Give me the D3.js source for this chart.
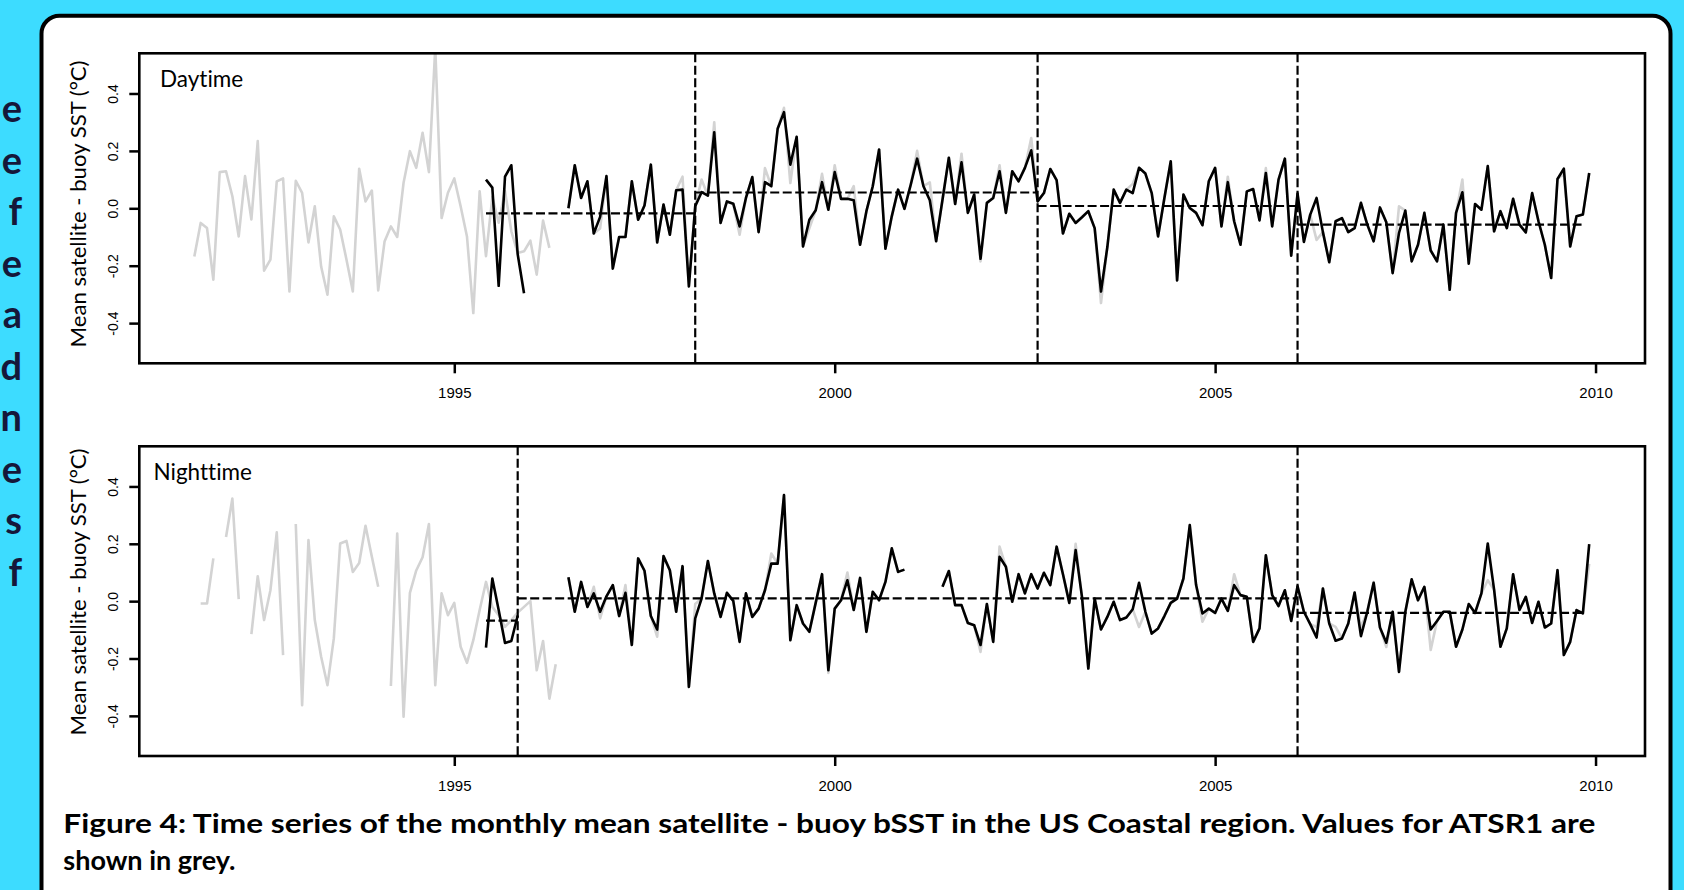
<!DOCTYPE html>
<html>
<head>
<meta charset="utf-8">
<script src="https://cdn.jsdelivr.net/npm/d3@7"></script>
<style>
  body { margin: 0; background: #3ddcff; }
  svg { display: block; }
  text { font-variant-ligatures: none; }
</style>
</head>
<body>
<div id="chart"></div>
<script>
// monthly mean satellite - buoy SST, US coastal region
var width = 1684, height = 890;

// first month of each run, [year, month]
var dayGreyStart = [1991, 8];
var dayBlackStart1 = [1995, 6];
var dayBlackStart2 = [1996, 7];
var nightGreyStart = [1991, 9];
var nightBlackStart1 = [1995, 6];
var nightBlackStart2 = [1996, 7];

// ATSR1, daytime (grey)
var dayGrey = [-0.168, -0.051, -0.069, -0.249, 0.126, 0.129, 0.042, -0.098, 0.112, -0.039,
  0.234, -0.217, -0.179, 0.094, 0.104, -0.29, 0.096, 0.054, -0.119, 0.007,
  -0.203, -0.301, -0.028, -0.074, -0.179, -0.29, 0.138, 0.024, 0.062, -0.286,
  -0.116, -0.063, -0.1, 0.089, 0.199, 0.141, 0.263, 0.126, 0.56, -0.034,
  0.054, 0.104, 0.007, -0.098, -0.365, 0.059, -0.167, 0.04, -0.05, 0.06,
  -0.08, -0.156, -0.15, -0.113, -0.231, -0.043, -0.138];

// grey series showing behind the black one after 1996
var dayGrey2 = [0.0, 0.15, 0.036, 0.094, -0.088, -0.07, 0.112, -0.21, -0.10, -0.10,
  0.094, -0.04, 0.01, 0.152, -0.119, 0.013, -0.092, 0.063, 0.11, -0.272,
  0.007, 0.10, 0.044, 0.30, -0.051, 0.024, 0.016, -0.092, 0.036, 0.109,
  -0.083, 0.14, 0.077, 0.277, 0.35, 0.088, 0.249, -0.133, -0.07, -0.007,
  0.12, -0.005, 0.15, 0.033, 0.033, 0.077, -0.127, -0.01, 0.077, 0.205,
  -0.141, -0.028, 0.065, -0.002, 0.083, 0.2, 0.077, 0.09, -0.115, 0.03,
  0.176, 0.015, 0.19, -0.016, 0.048, -0.185, 0.019, 0.036, 0.15, -0.016,
  0.129, 0.094, 0.141, 0.245, 0.024, 0.053, 0.137, 0.098, -0.088, -0.019,
  -0.051, -0.031, -0.01, -0.069, -0.33, -0.135, 0.065, 0.019, 0.065, 0.085,
  0.141, 0.121, 0.053, -0.098, 0.036, 0.164, -0.251, 0.048, 0.001, -0.016,
  -0.059, 0.094, 0.141, -0.063, 0.11, -0.045, -0.127, 0.059, 0.067, -0.042,
  0.14, -0.063, 0.1, 0.173, -0.165, 0.051, -0.117, -0.022, -0.11, -0.083,
  -0.188, -0.045, -0.034, -0.083, -0.069, 0.019, -0.057, -0.115, 0.0, -0.049,
  -0.226, 0.007, -0.008, -0.185, -0.127, -0.016, -0.147, -0.185, -0.057, -0.284,
  -0.016, 0.1, -0.193, 0.015, -0.005, 0.147, -0.08, -0.01, -0.069, 0.033,
  -0.057, -0.084, 0.053, -0.045, -0.127, -0.243, 0.102, 0.12, -0.133, -0.028,
  -0.022, 0.123];

// daytime (black)
var dayBlack1 = [0.10, 0.072, -0.27, 0.11, 0.15, -0.16, -0.296];
var dayBlack2 = [0.0, 0.15, 0.036, 0.094, -0.088, -0.03, 0.112, -0.21, -0.10, -0.10,
  0.094, -0.04, 0.01, 0.152, -0.119, 0.013, -0.092, 0.063, 0.065, -0.272,
  0.007, 0.056, 0.044, 0.265, -0.051, 0.024, 0.016, -0.063, 0.036, 0.109,
  -0.083, 0.091, 0.077, 0.277, 0.335, 0.152, 0.249, -0.133, -0.04, -0.007,
  0.091, -0.005, 0.126, 0.033, 0.033, 0.028, -0.127, -0.01, 0.077, 0.205,
  -0.141, -0.028, 0.065, -0.002, 0.083, 0.173, 0.077, 0.028, -0.115, 0.03,
  0.176, 0.015, 0.16, -0.016, 0.048, -0.176, 0.019, 0.036, 0.129, -0.016,
  0.129, 0.094, 0.141, 0.202, 0.024, 0.053, 0.137, 0.098, -0.088, -0.019,
  -0.051, -0.031, -0.01, -0.069, -0.29, -0.135, 0.065, 0.019, 0.065, 0.053,
  0.141, 0.121, 0.053, -0.098, 0.036, 0.164, -0.251, 0.048, 0.001, -0.016,
  -0.059, 0.094, 0.141, -0.063, 0.091, -0.045, -0.127, 0.059, 0.067, -0.042,
  0.123, -0.063, 0.1, 0.173, -0.165, 0.051, -0.117, -0.022, 0.036, -0.083,
  -0.188, -0.045, -0.034, -0.083, -0.069, 0.019, -0.057, -0.115, 0.003, -0.049,
  -0.226, -0.086, -0.008, -0.185, -0.127, -0.016, -0.147, -0.185, -0.057, -0.284,
  -0.016, 0.056, -0.193, 0.015, -0.005, 0.147, -0.08, -0.01, -0.069, 0.033,
  -0.057, -0.084, 0.053, -0.045, -0.127, -0.243, 0.102, 0.138, -0.133, -0.028,
  -0.022, 0.123];

// ATSR1, nighttime (grey), null = no data
var nightGrey = [-0.008, -0.008, 0.149, null, 0.224, 0.358, 0.007, null, -0.115, 0.087,
  -0.066, 0.038, 0.24, -0.188, null, 0.269, -0.363, 0.213, -0.066, -0.194,
  -0.293, -0.13, 0.201, 0.21, 0.102, 0.133, 0.263, 0.155, 0.05, null,
  -0.296, 0.236, -0.403, 0.029, 0.107, 0.153, 0.269, -0.293, 0.027, -0.049,
  -0.006, -0.159, -0.215, -0.136, -0.031, 0.067, -0.02, -0.049, -0.09, -0.066,
  -0.04, -0.02, 0.0, -0.241, -0.139, -0.34, -0.22];

var nightGrey2 = [0.083, -0.037, 0.067, -0.02, 0.05, -0.06, 0.017, 0.056, -0.052, 0.056,
  -0.153, 0.149, 0.106, -0.052, -0.124, 0.157, 0.108, -0.037, 0.122, -0.299,
  -0.01, 0.009, 0.14, 0.027, -0.055, 0.029, 0.001, -0.142, 0.027, -0.055,
  -0.026, 0.038, 0.166, 0.131, 0.37, -0.136, -0.014, -0.078, -0.107, -0.006,
  0.094, -0.25, -0.026, 0.003, 0.1, -0.031, 0.081, -0.107, 0.033, 0.003,
  0.067, 0.184, 0.102, 0.11, null, null, null, null, null, 0.05,
  0.105, -0.014, -0.014, -0.076, -0.084, -0.177, -0.01, -0.142, 0.19, 0.12,
  -0.002, 0.094, 0.027, 0.094, 0.044, 0.099, 0.056, 0.19, 0.094, -0.006,
  0.2, 0.015, -0.235, 0.009, -0.099, -0.055, -0.002, -0.066, -0.057, -0.028,
  -0.09, -0.037, -0.113, -0.095, -0.052, -0.006, 0.009, 0.079, 0.265, 0.056,
  -0.072, -0.026, -0.041, 0.009, -0.034, 0.094, 0.021, 0.015, -0.142, -0.095,
  0.16, 0.021, -0.017, 0.038, -0.069, 0.052, -0.037, -0.08, -0.09, 0.044,
  -0.078, -0.09, -0.13, -0.078, 0.03, -0.09, -0.037, 0.067, -0.092, -0.16,
  -0.037, -0.247, -0.037, 0.076, 0.003, 0.05, -0.17, -0.069, -0.037, -0.037,
  -0.159, -0.099, -0.01, -0.041, 0.027, 0.073, 0.04, -0.159, -0.095, 0.094,
  -0.031, 0.015, -0.076, -0.002, -0.092, -0.078, 0.108, -0.188, -0.142, -0.031,
  -0.043, 0.13];

// nighttime (black)
var nightBlack1 = [-0.162, 0.079, -0.031, -0.146, -0.139, -0.05];
var nightBlack2 = [0.083, -0.037, 0.067, -0.02, 0.027, -0.037, 0.017, 0.056, -0.052, 0.029,
  -0.153, 0.149, 0.106, -0.052, -0.099, 0.157, 0.108, -0.037, 0.122, -0.299,
  -0.06, 0.009, 0.14, 0.027, -0.055, 0.029, 0.001, -0.142, 0.027, -0.055,
  -0.026, 0.038, 0.131, 0.131, 0.37, -0.136, -0.014, -0.078, -0.107, -0.006,
  0.094, -0.241, -0.026, 0.003, 0.073, -0.031, 0.081, -0.107, 0.033, 0.003,
  0.067, 0.184, 0.102, 0.11, null, null, null, null, null, 0.05,
  0.105, -0.014, -0.014, -0.076, -0.084, -0.153, -0.01, -0.142, 0.155, 0.12,
  -0.002, 0.094, 0.027, 0.094, 0.044, 0.099, 0.056, 0.19, 0.094, -0.006,
  0.178, 0.015, -0.235, 0.009, -0.099, -0.055, -0.002, -0.066, -0.057, -0.028,
  0.064, -0.037, -0.113, -0.095, -0.052, -0.006, 0.009, 0.079, 0.265, 0.056,
  -0.043, -0.026, -0.041, 0.009, -0.034, 0.056, 0.021, 0.015, -0.142, -0.095,
  0.16, 0.021, -0.017, 0.038, -0.069, 0.052, -0.037, -0.08, -0.127, 0.044,
  -0.078, -0.138, -0.13, -0.078, 0.03, -0.122, -0.037, 0.064, -0.092, -0.145,
  -0.037, -0.247, -0.037, 0.076, 0.003, 0.05, -0.099, -0.069, -0.037, -0.037,
  -0.159, -0.099, -0.01, -0.041, 0.027, 0.201, 0.04, -0.159, -0.095, 0.094,
  -0.031, 0.015, -0.076, -0.002, -0.092, -0.078, 0.108, -0.188, -0.142, -0.031,
  -0.043, 0.199];

// period means (dashed) and break points
var dayMeans = [
  {from: [1995, 6], to: [1998, 3], v: -0.018},
  {from: [1998, 3], to: [2002, 9], v: 0.055},
  {from: [2002, 9], to: [2006, 2], v: 0.008},
  {from: [2006, 2], to: [2009, 11], v: -0.057}];
var dayBreaks = [[1998, 3], [2002, 9], [2006, 2]];
var nightMeans = [
  {from: [1995, 6], to: [1995, 11], v: -0.068},
  {from: [1995, 11], to: [2006, 2], v: 0.01},
  {from: [2006, 2], to: [2009, 11], v: -0.041}];
var nightBreaks = [[1995, 11], [2006, 2]];

var yearTicks = [1995, 2000, 2005, 2010];
var valueTicks = [-0.4, -0.2, 0.0, 0.2, 0.4];
var yTitle = "Mean satellite - buoy SST (\u00b0C)";
var captionLines = ["Figure 4: Time series of the monthly mean satellite - buoy bSST in the US Coastal region. Values for ATSR1 are",
  "shown in grey."];

//convert [year, month] to decimal year
function dec(ym) {
  return ym[0] + (ym[1] - 1) / 12;
}

function toPoints(start, values) {
  return values.map(function(v, i) {
    return {t: dec(start) + i / 12, v: v};
  });
}

var svg = d3.select("#chart")
  .append("svg")
    .attr("width", width)
    .attr("height", height);

svg.append("rect")
  .attr("width", width)
  .attr("height", height)
  .attr("fill", "#3ddcff");

// end of the neighbouring text column, cut off at the left
var edgeLetters = ["e", "e", "f", "e", "a", "d", "n", "e", "s", "f"];
svg.selectAll("text.edge")
  .data(edgeLetters)
  .enter()
  .append("text")
    .attr("class", "edge")
    .attr("x", 22)
    .attr("y", function(d, i) { return 122 + i * 51.5; })
    .attr("text-anchor", "end")
    .style("font-family", "Lato, 'Open Sans', sans-serif")
    .style("font-weight", "bold")
    .style("font-size", "38px")
    .style("fill", "#15173a")
    .text(function(d) { return d; });

// white card
svg.append("rect")
  .attr("x", 41.5)
  .attr("y", 15.7)
  .attr("width", 1629)
  .attr("height", 950)
  .attr("rx", 18)
  .attr("fill", "#fff")
  .attr("stroke", "#000")
  .attr("stroke-width", 4);

var left = 139.3, right = 1645;
var x = d3.scaleLinear()
  .domain([1990.86, 2010.65])
  .range([left, right]);

function drawPanel(p) {
  var y = d3.scaleLinear()
    .domain([-0.54, 0.54])
    .range([p.bottom, p.top]);

  var g = svg.append("g");

  g.append("clipPath")
    .attr("id", p.id)
    .append("rect")
      .attr("x", left)
      .attr("y", p.top)
      .attr("width", right - left)
      .attr("height", p.bottom - p.top);

  var plot = g.append("g").attr("clip-path", "url(#" + p.id + ")");

  var line = d3.line()
    .defined(function(d) { return d.v !== null; })
    .x(function(d) { return x(d.t); })
    .y(function(d) { return y(d.v); });

  p.grey.forEach(function(s) {
    plot.append("path")
      .attr("d", line(s))
      .attr("fill", "none")
      .attr("stroke", "#d3d3d3")
      .attr("stroke-width", 2.6)
      .attr("stroke-linejoin", "round");
  });

  p.black.forEach(function(s) {
    plot.append("path")
      .attr("d", line(s))
      .attr("fill", "none")
      .attr("stroke", "#000")
      .attr("stroke-width", 2.6)
      .attr("stroke-linejoin", "round");
  });

  // means of each period
  plot.selectAll("line.mean")
    .data(p.means)
    .enter()
    .append("line")
      .attr("x1", function(d) { return x(dec(d.from)); })
      .attr("x2", function(d) { return x(dec(d.to)); })
      .attr("y1", function(d) { return y(d.v); })
      .attr("y2", function(d) { return y(d.v); })
      .attr("stroke", "#000")
      .attr("stroke-width", 2.2)
      .style("stroke-dasharray", "9,3.5");

  plot.selectAll("line.brk")
    .data(p.breaks)
    .enter()
    .append("line")
      .attr("x1", function(d) { return x(dec(d)); })
      .attr("x2", function(d) { return x(dec(d)); })
      .attr("y1", p.top)
      .attr("y2", p.bottom)
      .attr("stroke", "#000")
      .attr("stroke-width", 2.2)
      .style("stroke-dasharray", "9,3.5");

  // axes
  var xAxis = g.append("g")
    .attr("transform", "translate(0," + p.bottom + ")")
    .call(d3.axisBottom(x).tickValues(yearTicks).tickSize(10).tickFormat(d3.format("d")));
  xAxis.select(".domain").remove();
  xAxis.selectAll("line").attr("stroke-width", 2.5);
  xAxis.selectAll("text")
    .attr("y", 34.8)
    .attr("dy", null)
    .style("font-family", "'Liberation Sans', Arial, sans-serif")
    .style("font-size", "15px");

  var yAxis = g.append("g")
    .attr("transform", "translate(" + left + ",0)")
    .call(d3.axisLeft(y).tickValues(valueTicks).tickSize(10)
      .tickFormat(function(d) { return d.toFixed(1); }));
  yAxis.select(".domain").remove();
  yAxis.selectAll("line").attr("stroke-width", 2.5);
  yAxis.selectAll("text")
    .attr("x", null)
    .attr("dy", null)
    .attr("text-anchor", "middle")
    .attr("transform", "translate(-21.5,0) rotate(-90)")
    .style("font-family", "'Liberation Sans', Arial, sans-serif")
    .style("font-size", "14px");

  g.append("text")
    .attr("transform", "translate(86," + p.titleY + ") rotate(-90)")
    .attr("text-anchor", "middle")
    .attr("textLength", 287)
    .attr("lengthAdjust", "spacingAndGlyphs")
    .style("font-family", "Lato, 'Open Sans', sans-serif")
    .style("font-size", "21px")
    .text(yTitle);

  g.append("text")
    .attr("x", p.labelX)
    .attr("y", p.top + 34)
    .style("font-family", "Lato, 'Open Sans', sans-serif")
    .style("font-size", "22.5px")
    .text(p.label);

  g.append("rect")
    .attr("x", left)
    .attr("y", p.top)
    .attr("width", right - left)
    .attr("height", p.bottom - p.top)
    .attr("fill", "none")
    .attr("stroke", "#000")
    .attr("stroke-width", 2.6);
}

drawPanel({
  id: "clipDay", top: 53.3, bottom: 363.3, titleY: 204, label: "Daytime", labelX: 160,
  grey: [toPoints(dayGreyStart, dayGrey), toPoints(dayBlackStart2, dayGrey2)],
  black: [toPoints(dayBlackStart1, dayBlack1), toPoints(dayBlackStart2, dayBlack2)],
  means: dayMeans, breaks: dayBreaks
});

drawPanel({
  id: "clipNight", top: 446.3, bottom: 756, titleY: 592, label: "Nighttime", labelX: 153.5,
  grey: [toPoints(nightGreyStart, nightGrey), toPoints(nightBlackStart2, nightGrey2)],
  black: [toPoints(nightBlackStart1, nightBlack1), toPoints(nightBlackStart2, nightBlack2)],
  means: nightMeans, breaks: nightBreaks
});

// caption
svg.selectAll("text.caption")
  .data(captionLines)
  .enter()
  .append("text")
    .attr("class", "caption")
    .attr("x", 63.3)
    .attr("y", function(d, i) { return 833.3 + i * 36.7; })
    .attr("textLength", function(d, i) { return i === 0 ? 1532 : null; })
    .attr("lengthAdjust", "spacingAndGlyphs")
    .style("font-family", "Lato, 'Open Sans', sans-serif")
    .style("font-weight", "bold")
    .style("font-size", "27px")
    .text(function(d) { return d; });
</script>
</body>
</html>
